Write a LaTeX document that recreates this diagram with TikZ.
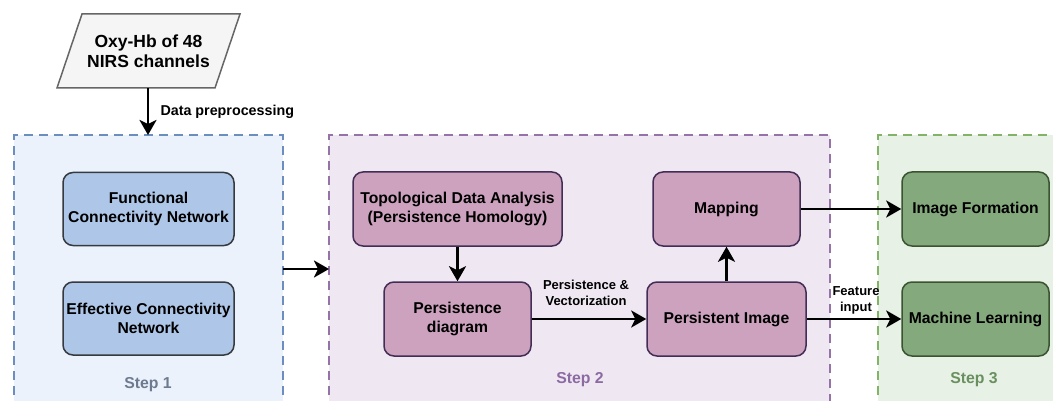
\documentclass[tikz,border=0pt]{standalone}
\usepackage{fontspec}
\setmainfont{Liberation Sans}
\usetikzlibrary{arrows.meta}
\definecolor{bluefill}{HTML}{AEC7E8}
\definecolor{bluebg}{HTML}{EBF2FC}
\definecolor{blueedge}{HTML}{6C8EBF}
\definecolor{bluelabel}{HTML}{6D7B90}
\definecolor{purpfill}{HTML}{CDA2BE}
\definecolor{purpbg}{HTML}{EFE8F2}
\definecolor{purpedge}{HTML}{9673A6}
\definecolor{purplabel}{HTML}{8C6BA3}
\definecolor{purpborder}{HTML}{432D57}
\definecolor{greenfill}{HTML}{84A97C}
\definecolor{greenbg}{HTML}{E7F1E5}
\definecolor{greenedge}{HTML}{82B366}
\definecolor{greenlabel}{HTML}{6A9060}
\definecolor{greenborder}{HTML}{3A5431}
\definecolor{darkborder}{HTML}{36393D}
\definecolor{greyfill}{HTML}{F5F5F5}
\definecolor{greyedge}{HTML}{666666}
\tikzset{
  box/.style={rounded corners=10pt, line width=1.5pt, align=center, inner sep=0pt,
    font=\bfseries\fontsize{15.7}{18.5}\selectfont},
  bluebox/.style={box, fill=bluefill, draw=darkborder},
  purpbox/.style={box, fill=purpfill, draw=purpborder},
  greenbox/.style={box, fill=greenfill, draw=greenborder},
  group/.style={dashed, dash pattern=on 9pt off 6pt, line width=2.2pt},
  steplabel/.style={font=\bfseries\fontsize{15.8}{18}\selectfont},
  conn/.style={line width=2.8pt, -{Stealth[length=15pt,width=17pt,inset=4pt]}},
  small/.style={font=\bfseries\fontsize{13}{16}\selectfont, align=center}
}
\begin{document}
\begin{tikzpicture}[x=1pt,y=-1pt]
\useasboundingbox (0,0) rectangle (1053,401);
% group boxes
\fill[bluebg] (14,135) rectangle (283,410);
\fill[purpbg] (329,135) rectangle (830,410);
\fill[greenbg] (878,135) rectangle (1060,410);
\draw[group, draw=blueedge] (14,410) -- (14,135) -- (283,135) -- (283,410);
\draw[group, draw=purpedge] (329,410) -- (329,135) -- (830,135) -- (830,410);
\draw[group, draw=greenedge] (878,410) -- (878,135) -- (1060,135);
\coordinate (s1top) at (148,135);
\coordinate (s1right) at (283,269);
\coordinate (s2left) at (329,269);
\node[steplabel, text=bluelabel] (st1) at (148,385) {Step 1};
\node[steplabel, text=purplabel] (st2) at (580,380) {Step 2};
\node[steplabel, text=greenlabel] (st3) at (974,380) {Step 3};
% input
\draw[fill=greyfill, draw=greyedge, line width=1.5pt] (82,14) -- (240,14) -- (215,88) -- (57,88) -- cycle;
\node[align=center, font=\bfseries\fontsize{17.5}{20.5}\selectfont] (in) at (148.5,51) {Oxy-Hb of 48\\NIRS channels};
\coordinate (inbot) at (148,88);
% step 1
\node[bluebox, minimum width=171pt, minimum height=73pt] (fc) at (148.5,209) {Functional\\Connectivity Network};
\node[bluebox, minimum width=171pt, minimum height=73pt] (ec) at (148.5,318.5) {Effective Connectivity\\Network};
% step 2
\node[purpbox, minimum width=209pt, minimum height=74pt] (tda) at (457.5,209) {Topological Data Analysis\\(Persistence Homology)};
\node[purpbox, minimum width=147pt, minimum height=74pt] (pd) at (457.5,319) {Persistence\\diagram};
\node[purpbox, minimum width=147pt, minimum height=74pt] (map) at (726.5,209) {Mapping};
\node[purpbox, minimum width=159pt, minimum height=74pt] (pi) at (726.5,319) {Persistent Image};
% step 3
\node[greenbox, minimum width=147pt, minimum height=74pt] (if) at (975.5,209) {Image Formation};
\node[greenbox, minimum width=147pt, minimum height=74pt] (ml) at (975.5,319) {Machine Learning};
% connectors
\draw[conn] (inbot) -- (s1top);
\node[small, anchor=west, font=\bfseries\fontsize{14.3}{17}\selectfont] (dp) at (157,112) {Data preprocessing};
\draw[conn] (s1right) -- (s2left);
\draw[conn] (tda) -- (pd);
\draw[conn] (pd) -- (pi);
\node[small] (pv) at (586,293) {Persistence \&\\Vectorization};
\draw[conn] (pi) -- (map);
\draw[conn] (map.east) -- (if.west);
\draw[conn] (pi.east) -- (ml.west);
\node[small] (fi) at (856,300) {Feature\\input};
\end{tikzpicture}
\end{document}
